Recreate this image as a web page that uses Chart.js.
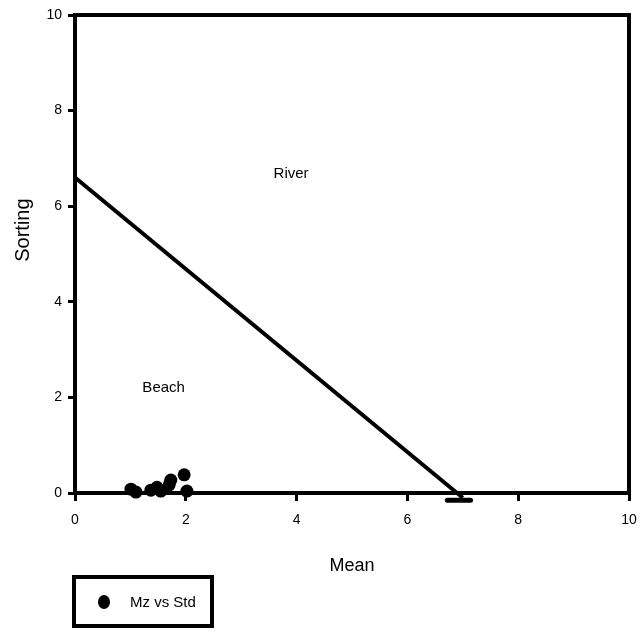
<!DOCTYPE html>
<html>
<head>
<meta charset="utf-8">
<style>
  html, body { margin: 0; padding: 0; background: #fff; }
  canvas { display: block; }
</style>
<script src="https://cdn.jsdelivr.net/npm/chart.js@4/dist/chart.umd.min.js"></script>
</head>
<body>
<canvas id="c" width="644" height="633"></canvas>
<script>
// Sample points: grain-size mean (Mz) against sorting (Std)
const meanValues    = [1.01, 1.10, 1.37, 1.48, 1.55, 1.70, 1.73, 1.97, 2.02];
const sortingValues = [0.08, 0.02, 0.06, 0.12, 0.04, 0.17, 0.27, 0.38, 0.04];

// River / beach discriminating line and its end bar
const boundaryMean    = [0, 7.0];
const boundarySorting = [6.6, -0.1];
const endBarMean      = [6.72, 7.14];
const endBarSorting   = [-0.15, -0.15];

// Environment labels
const regionNames   = ['River', 'Beach'];
const regionMean    = [3.9, 1.6];
const regionSorting = [6.67, 2.2];

const seriesLabel = 'Mz vs Std';
const xTitle = 'Mean';
const yTitle = 'Sorting';
const axisMin = 0, axisMax = 10, axisStep = 2;

const toPoints = (xs, ys) => xs.map((x, i) => ({ x, y: ys[i] }));

const FONT = "'Liberation Sans', Arial, sans-serif";
Chart.defaults.font.family = FONT;
Chart.defaults.color = '#000';

// Heavy frame around the plotting area
const framePlugin = {
  id: 'frame',
  afterDatasetsDraw(chart) {
    const { ctx, chartArea: a } = chart;
    ctx.save();
    ctx.strokeStyle = '#000';
    ctx.lineWidth = 4;
    ctx.strokeRect(a.left, a.top, a.right - a.left, a.bottom - a.top);
    ctx.restore();
  }
};

// Region names placed at data coordinates, plus the vertical axis title
const regionPlugin = {
  id: 'regions',
  afterDatasetsDraw(chart) {
    const { ctx, scales } = chart;
    ctx.save();
    ctx.fillStyle = '#000';
    ctx.font = '15px ' + FONT;
    ctx.textAlign = 'center';
    ctx.textBaseline = 'middle';
    regionNames.forEach((name, i) => {
      ctx.fillText(name, scales.x.getPixelForValue(regionMean[i]), scales.y.getPixelForValue(regionSorting[i]));
    });
    // y-axis title, set a little above the axis midpoint
    ctx.translate(23, scales.y.getPixelForValue(5.5));
    ctx.rotate(-Math.PI / 2);
    ctx.font = '20px ' + FONT;
    ctx.fillText(yTitle, 0, 0);
    ctx.restore();
  }
};

// Boxed legend below the axis title
const boxLegendPlugin = {
  id: 'boxLegend',
  afterDraw(chart) {
    const { ctx } = chart;
    const ds = chart.data.datasets[0];
    ctx.save();
    ctx.strokeStyle = '#000';
    ctx.lineWidth = 4;
    ctx.strokeRect(74, 577, 138, 49);
    ctx.fillStyle = '#000';
    ctx.beginPath();
    ctx.ellipse(104, 602, 6, 7, 0, 0, Math.PI * 2);
    ctx.fill();
    ctx.font = '15px ' + FONT;
    ctx.textAlign = 'left';
    ctx.textBaseline = 'middle';
    ctx.fillText(ds.label, 130, 603);
    ctx.restore();
  }
};

new Chart(document.getElementById('c'), {
  type: 'scatter',
  data: {
    datasets: [
      {
        label: seriesLabel,
        data: toPoints(meanValues, sortingValues),
        backgroundColor: '#000',
        borderColor: '#000',
        borderWidth: 0,
        pointRadius: 6.5,
        pointHoverRadius: 6.5,
        clip: false,
        order: 0
      },
      {
        label: 'boundary',
        type: 'line',
        data: toPoints(boundaryMean, boundarySorting),
        borderColor: '#000',
        borderWidth: 4,
        pointRadius: 0,
        fill: false,
        clip: false,
        order: 1
      },
      {
        label: 'end bar',
        type: 'line',
        data: toPoints(endBarMean, endBarSorting),
        borderColor: '#000',
        borderWidth: 5,
        borderCapStyle: 'round',
        pointRadius: 0,
        fill: false,
        clip: false,
        order: 1
      }
    ]
  },
  options: {
    responsive: false,
    devicePixelRatio: 1,
    animation: false,
    layout: { padding: { left: 0, top: 15, right: 15, bottom: 50 } },
    plugins: {
      legend: { display: false },
      tooltip: { enabled: false }
    },
    scales: {
      x: {
        type: 'linear',
        min: axisMin, max: axisMax,
        afterFit(scale) { scale.height = 90; scale.paddingRight = 0; },
        ticks: { stepSize: axisStep, padding: 11, font: { size: 14 }, color: '#000' },
        grid: { drawOnChartArea: false, drawTicks: true, tickLength: 8, lineWidth: 3, color: '#000' },
        border: { display: true, width: 4, color: '#000' },
        title: { display: true, text: xTitle, font: { size: 18 }, color: '#000', padding: { top: 0, bottom: 6 } }
      },
      y: {
        type: 'linear',
        min: axisMin, max: axisMax,
        afterFit(scale) { scale.width = 75; },
        ticks: { stepSize: axisStep, padding: 6, font: { size: 14 }, color: '#000' },
        grid: { drawOnChartArea: false, drawTicks: true, tickLength: 7, lineWidth: 3, color: '#000' },
        border: { display: true, width: 4, color: '#000' },
        title: { display: false }
      }
    }
  },
  plugins: [framePlugin, regionPlugin, boxLegendPlugin]
});
</script>
</body>
</html>
